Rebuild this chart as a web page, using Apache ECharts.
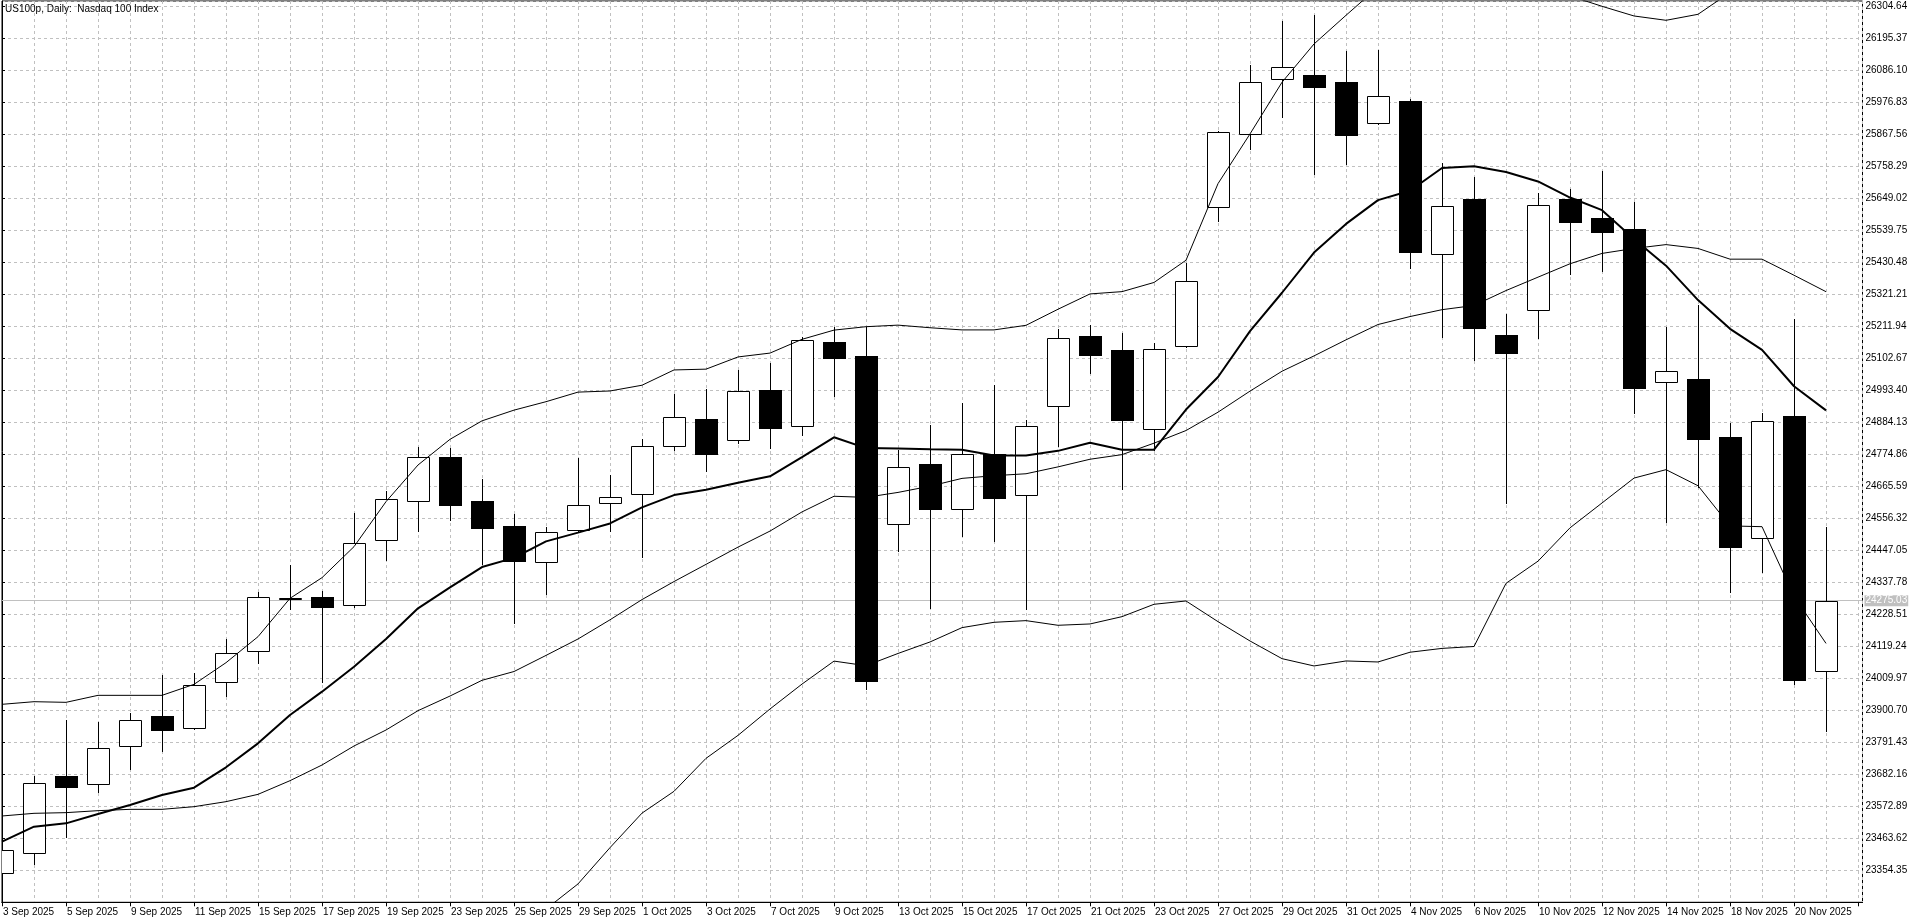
<!DOCTYPE html>
<html>
<head>
<meta charset="utf-8">
<title>US100p, Daily</title>
<script src="https://cdn.jsdelivr.net/npm/echarts@6.0.0/dist/echarts.min.js"></script>
<style>
html,body{margin:0;padding:0;background:#fff;}
#chart{width:1920px;height:923px;}
</style>
</head>
<body>
<div id="chart"></div>
<script>
const titleText = 'US100p, Daily:  Nasdaq 100 Index';

const dates = ['3 Sep 2025','4 Sep 2025','5 Sep 2025','8 Sep 2025','9 Sep 2025','10 Sep 2025','11 Sep 2025','12 Sep 2025',
  '15 Sep 2025','16 Sep 2025','17 Sep 2025','18 Sep 2025','19 Sep 2025','22 Sep 2025','23 Sep 2025','24 Sep 2025',
  '25 Sep 2025','26 Sep 2025','29 Sep 2025','30 Sep 2025','1 Oct 2025','2 Oct 2025','3 Oct 2025','6 Oct 2025',
  '7 Oct 2025','8 Oct 2025','9 Oct 2025','10 Oct 2025','13 Oct 2025','14 Oct 2025','15 Oct 2025','16 Oct 2025',
  '17 Oct 2025','20 Oct 2025','21 Oct 2025','22 Oct 2025','23 Oct 2025','24 Oct 2025','27 Oct 2025','28 Oct 2025',
  '29 Oct 2025','30 Oct 2025','31 Oct 2025','3 Nov 2025','4 Nov 2025','5 Nov 2025','6 Nov 2025','7 Nov 2025',
  '10 Nov 2025','11 Nov 2025','12 Nov 2025','13 Nov 2025','14 Nov 2025','17 Nov 2025','18 Nov 2025','19 Nov 2025',
  '20 Nov 2025','21 Nov 2025'];

const opens = [23344,23412.3,23676.4,23647.9,23777.7,23880.1,23839.1,23996.2,24102.1,24282,24286.5,24259.1,24482.2,24614.3,
  24764.5,24616.0,24529.7,24405.5,24517.9,24608.1,24639.5,24802.8,24894.3,24822.4,24995.0,24870.8,25157.0,25110.0,
  24536.2,24741.4,24586.7,24777.5,24635.1,24938.3,25177.4,25130.4,24859.9,25143.5,25617.9,25867.5,26055.7,26068.7,
  26047.8,25905.4,25980.2,25457.5,25646.7,25181.1,25266.7,25646.7,25583.4,25542.6,25021.7,25033.5,24833.5,24488.5,
  24904.1,24033.7];
const highs = [23435,23676.4,23867.6,23860.8,23890.4,24021.3,24026.9,24144.2,24305.8,24396.9,24308.1,24575.6,24650.7,24800,
  24798,24689.1,24571.5,24525.8,24762.3,24703.5,24826.4,24980.6,24996.3,25061.6,25085.1,25174.0,25209.3,25209.3,
  24791.1,24876.0,24950.0,25012.8,24891.2,25202.3,25217.9,25190.5,25153.9,25428.4,25877.9,26104.0,26254.3,26276.5,
  26152.4,26155.0,25987.1,25770.8,25722.0,25255.6,25667.3,25680.4,25742.3,25635.5,25209.9,25284.4,24883.1,24915.9,
  25236.0,24527.7];
const lows = [23335,23375.9,23469.2,23622.9,23700.3,23762.9,23836.0,23950.7,24063.4,24246.6,23998.5,24254.6,24413.9,24514.1,
  24550.5,24399.0,24199.1,24298.4,24510.1,24512.7,24425.1,24788.5,24716.6,24813.3,24795.0,24839.4,24974.0,23974.3,
  24444.8,24250.0,24496.5,24479.5,24246.0,24803.7,25052.0,24656.0,24790.6,25140.0,25570.8,25816.5,25925.0,25731.6,
  25766.8,25903.0,25411.8,25176.0,25096.0,24608.7,25170.7,25388.9,25401.5,24917.5,24543.4,24663.6,24305.5,24373.5,
  23992.0,23831.1];
const closes = [23424,23651.3,23639.9,23770.8,23866.4,23834.6,23986.0,24095.2,24286.5,24283.5,24254.6,24470.8,24621.1,24764.5,
  24602.9,24521.9,24412.1,24508.8,24600.3,24627.7,24802.8,24900.9,24776.7,24991.0,24863.0,25166.2,25102.1,24000.4,
  24731.0,24587.2,24774.9,24627.2,24870.3,25173.5,25114.7,24892.5,25133.0,25368.2,25874.0,26045.2,26098.8,26028.2,
  25864.9,25996.9,25466.6,25621.1,25206.6,25122.3,25627.8,25569.3,25535.3,25002.9,25058.3,24828.3,24457.1,24887.1,
  24003.6,24275.03];

// thick moving average
const maLine = [23452.1,23503.4,23514.7,23546.6,23577.4,23611.5,23636.5,23706.0,23787.9,23884.7,23964.3,24049.7,24144.2,24249.0,
  24320.6,24389.9,24421.2,24477.5,24507.5,24538.8,24593.8,24635.6,24653.9,24677.4,24699.6,24765.0,24832.9,24796.0,
  24795.0,24792.0,24790.6,24771.1,24771.1,24786.6,24814.1,24790.6,24790.6,24927.8,25038.9,25195.7,25326.5,25463.6,
  25561.6,25642.7,25675.0,25752.6,25758.3,25739.0,25706.5,25651.6,25608.5,25510.0,25419.0,25301.4,25203.4,25131.5,
  25007.3,24925.0];
// Bollinger bands
const bbMiddle = [23539.8,23548.9,23551.2,23558.0,23562.5,23562.5,23571.6,23588.7,23613.7,23660.4,23713.9,23778.8,23833.4,23899.4,
  23949.4,24003.1,24033.1,24088.1,24144.2,24209.7,24278.8,24340.3,24399.0,24457.9,24512.7,24578.1,24631.6,24627.8,
  24644.7,24666.0,24692.6,24701.8,24708.4,24731.9,24758.0,24773.7,24812.9,24856.0,24918.7,24990.6,25058.5,25110.8,
  25165.7,25218.0,25245.2,25268.7,25283.0,25334.0,25379.8,25425.5,25460.8,25477.8,25490.9,25477.8,25441.2,25441.2,
  25386.3,25330.1];
const bbUpper = [23921.1,23930.1,23927.9,23951.8,23951.8,23951.8,23989.3,24063.3,24152.1,24283.0,24353.6,24459.5,24613.1,24738.3,
  24826.0,24889.1,24925.7,24954.5,24987.2,24991.1,25010.7,25062.9,25065.6,25107.3,25120.5,25167.5,25198.9,25210.6,
  25215.9,25207.0,25199.6,25199.6,25215.3,25270.2,25322.5,25330.3,25361.6,25437.5,25699.1,25868.8,26045.2,26175.9,
  26273.9,26370.0,26391.0,26426.0,26445.0,26345.0,26348.0,26340.0,26304.6,26271.6,26256.8,26277.3,26352.0,26354.0,
  26482.0,26531.0];
const bbLower = [23160,23168,23175,23164,23173,23173,23154,23114,23075,23038,23074,23098,23054,23060,
  23075,23117,23140,23222,23307.8,23431.7,23549.6,23624.0,23736.6,23815.1,23905.2,23990.2,24068.7,24053.0,
  24094.8,24134.0,24183.0,24201.2,24206.9,24191.0,24195.5,24220.5,24262.7,24274.0,24203.4,24137.4,24077.1,24052.1,
  24069.2,24065.7,24099.0,24112.1,24118.6,24334.3,24410.0,24523.8,24608.7,24693.7,24722.4,24667.5,24530.3,24527.7,
  24290.0,24129.1];

const priceTicks = [23354.35,23463.62,23572.89,23682.16,23791.43,23900.70,24009.97,24119.24,24228.51,24337.78,
  24447.05,24556.32,24665.59,24774.86,24884.13,24993.40,25102.67,25211.94,25321.21,25430.48,25539.75,25649.02,
  25758.29,25867.56,25976.83,26086.10,26195.37,26304.64];

const FONT = "'Liberation Sans', Arial, sans-serif";
const FONT_SIZE = 10;
const GRID_COLOR = '#c0c0c0';

const step = priceTicks[1] - priceTicks[0];
const yMin = priceTicks[0] - step;
const yMax = priceTicks[priceTicks.length - 1] + step * (5.3 / 32);
const xMax = 58.14;
const lastPrice = closes[closes.length - 1];

const candleData = dates.map((d, i) => [i, opens[i], closes[i], lows[i], highs[i]]);
const toXY = arr => arr.map((v, i) => [i, v]);

function renderCandle(params, api) {
  const i = api.value(0);
  const o = api.value(1), c = api.value(2), l = api.value(3), h = api.value(4);
  const pO = api.coord([i, o]);
  const pC = api.coord([i, c]);
  const pL = api.coord([i, l]);
  const pH = api.coord([i, h]);
  const x = Math.round(pO[0]);
  const half = 11;
  const yTop = Math.round(Math.min(pO[1], pC[1]));
  const yBot = Math.round(Math.max(pO[1], pC[1]));
  const children = [{
    type: 'line',
    shape: { x1: x + 0.5, y1: Math.round(pH[1]), x2: x + 0.5, y2: Math.round(pL[1]) + 1 },
    style: { stroke: '#000', lineWidth: 1 }
  }];
  if (c >= o) {
    children.push({
      type: 'rect',
      shape: { x: x - half + 0.5, y: yTop + 0.5, width: half * 2, height: Math.max(yBot - yTop, 0) },
      style: { fill: '#fff', stroke: '#000', lineWidth: 1 }
    });
  } else {
    children.push({
      type: 'rect',
      shape: { x: x - half, y: yTop, width: half * 2 + 1, height: Math.max(yBot - yTop, 1) + 1 },
      style: { fill: '#000' }
    });
  }
  return { type: 'group', children: children };
}

const chart = echarts.init(document.getElementById('chart'), null, { renderer: 'canvas', width: 1920, height: 923 });

const option = {
  animation: false,
  backgroundColor: '#fff',
  textStyle: { fontFamily: FONT },
  title: {
    text: titleText,
    left: 5, top: 4, padding: 0,
    textStyle: { fontFamily: FONT, fontSize: FONT_SIZE, fontWeight: 'normal', color: '#000' }
  },
  grid: {
    left: 2, top: 1, right: 57.5, bottom: 20.7,
    show: true, backgroundColor: '#fff', borderColor: '#000', borderWidth: 1,
    containLabel: false
  },
  xAxis: [{
    type: 'value', min: 0, max: xMax, interval: 1, position: 'bottom',
    axisLine: { show: true, lineStyle: { color: '#000', width: 1 } },
    axisTick: { show: false },
    axisLabel: { show: false },
    splitLine: { show: true, lineStyle: { color: GRID_COLOR, width: 1, type: [3, 3] } }
  }, {
    type: 'value', min: 0, max: xMax, interval: 2, position: 'bottom', offset: 0,
    axisLine: { show: true, lineStyle: { color: '#000', width: 1 } },
    axisTick: { show: true, inside: false, length: 4, lineStyle: { color: '#000', width: 1 } },
    axisLabel: {
      show: true, margin: 5, align: 'left', padding: [0, 0, 0, 1],
      color: '#000', fontFamily: FONT, fontSize: FONT_SIZE,
      showMaxLabel: false,
      formatter: v => (Number.isInteger(v) && dates[v]) ? dates[v] : ''
    },
    splitLine: { show: false }
  }],
  yAxis: {
    type: 'value', position: 'right', min: yMin, max: yMax, interval: step,
    axisLine: { show: true, lineStyle: { color: '#000', width: 1 } },
    axisTick: { show: true, inside: false, length: 3, lineStyle: { color: '#000', width: 1 } },
    axisLabel: {
      show: true, margin: 3, color: '#000', fontFamily: FONT, fontSize: FONT_SIZE,
      showMinLabel: false, showMaxLabel: false,
      formatter: v => {
        const t = priceTicks.find(p => Math.abs(p - v) < 0.01);
        return t === undefined ? '' : t.toFixed(2);
      }
    },
    splitLine: { show: true, lineStyle: { color: GRID_COLOR, width: 1, type: [3, 3] } }
  },
  series: [{
    name: 'bid',
    type: 'line',
    xAxisIndex: 0,
    data: [],
    z: 1,
    markLine: {
      silent: true, z: 1, animation: false,
      symbol: ['none', 'none'],
      lineStyle: { color: GRID_COLOR, type: 'solid', width: 1 },
      label: {
        show: true, position: 'end', distance: 2,
        formatter: () => lastPrice.toFixed(2),
        color: '#fff', backgroundColor: GRID_COLOR, padding: [1, 1, 0, 1],
        fontFamily: FONT, fontSize: FONT_SIZE
      },
      data: [{ yAxis: lastPrice }]
    }
  }, {
    name: 'US100p',
    type: 'custom',
    xAxisIndex: 0,
    renderItem: renderCandle,
    data: candleData,
    encode: { x: 0, y: [1, 2, 3, 4] },
    clip: true,
    z: 2,
    silent: true
  }, {
    name: 'BB upper', type: 'line', xAxisIndex: 0, data: toXY(bbUpper), showSymbol: false, symbol: 'none',
    lineStyle: { color: '#000', width: 1 }, clip: true, z: 3, silent: true
  }, {
    name: 'BB middle', type: 'line', xAxisIndex: 0, data: toXY(bbMiddle), showSymbol: false, symbol: 'none',
    lineStyle: { color: '#000', width: 1 }, clip: true, z: 3, silent: true
  }, {
    name: 'BB lower', type: 'line', xAxisIndex: 0, data: toXY(bbLower), showSymbol: false, symbol: 'none',
    lineStyle: { color: '#000', width: 1 }, clip: true, z: 3, silent: true
  }, {
    name: 'MA', type: 'line', xAxisIndex: 0, data: toXY(maLine), showSymbol: false, symbol: 'none',
    lineStyle: { color: '#000', width: 2 }, clip: true, z: 4, silent: true
  }]
};

chart.setOption(option);
</script>
</body>
</html>
